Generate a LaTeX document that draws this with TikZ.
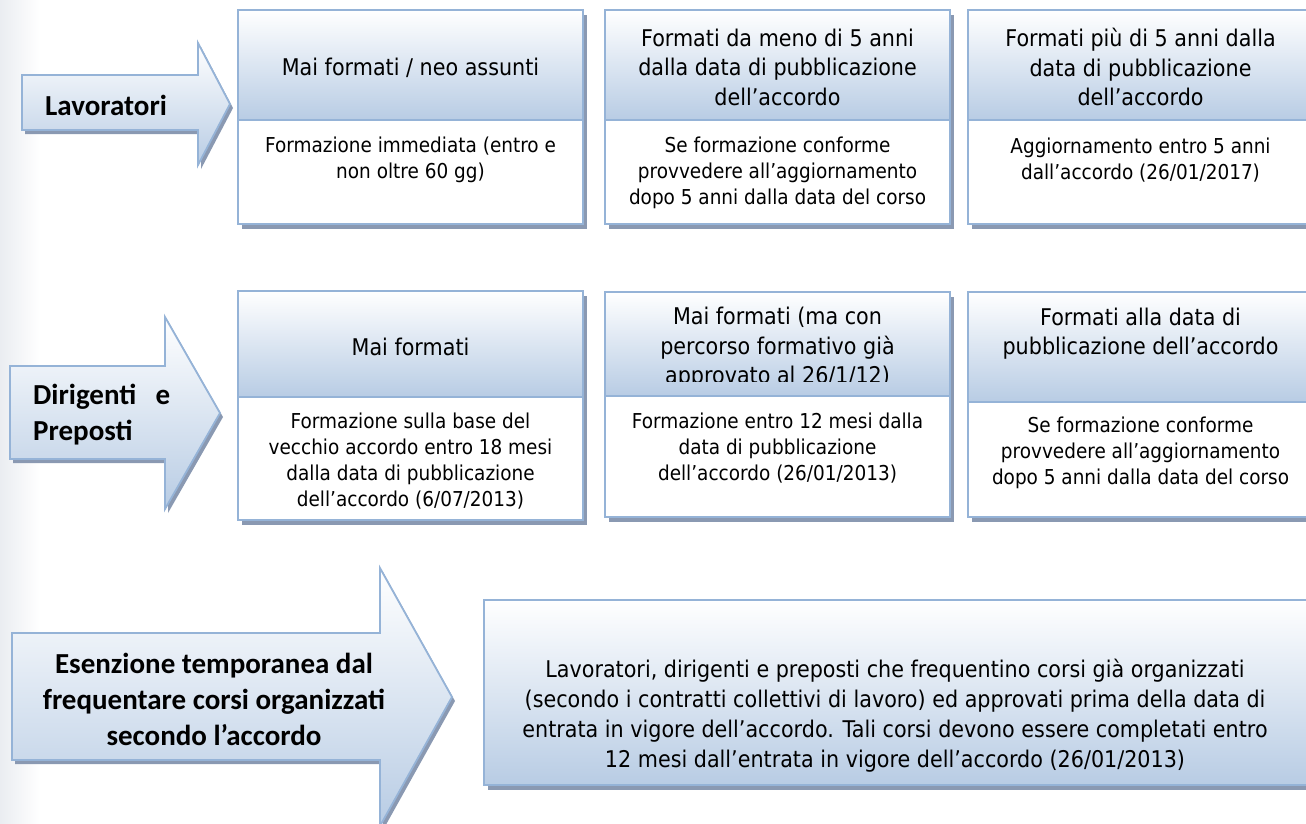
\documentclass[tikz,border=0pt]{standalone}
\usepackage{fontspec}
\setmainfont{DejaVu Sans}[FakeStretch=0.9]
\newfontfamily\carlitofont{Carlito}
\usetikzlibrary{positioning}
\definecolor{boxline}{RGB}{149,179,215}
\definecolor{boxfill}{RGB}{184,204,228}
\definecolor{boxdrop}{RGB}{138,153,178}
\definecolor{sidebar}{RGB}{234,237,241}
\tikzset{%
  hdr/.style={draw=boxline, line width=2pt, top color=white, bottom color=boxfill},
  bdy/.style={draw=boxline, line width=2pt, fill=white},
  drop/.style={fill=boxdrop},
  arrbody/.style={draw=boxline, line width=1.8pt, top color=white, bottom color=boxfill},
  htxt/.style={font=\fontsize{23}{29.5}\selectfont, align=center, inner sep=0pt},
  btxt/.style={font=\fontsize{20.5}{26}\selectfont, align=center, inner sep=0pt},
  ntxt/.style={font=\fontsize{23}{30}\selectfont, align=center, inner sep=0pt},
  lbl/.style={font=\carlitofont\bfseries\fontsize{29}{36}\selectfont, inner sep=0pt}
}
% big block arrow: x0, shaft top, shaft bottom, head x, head top, head bottom, tip x
\newcommand{\procarrow}[7]{%
  \fill[drop,shift={(3,4)}] (#1,#2) -- (#4,#2) -- (#4,#5) -- (#7,{(#5+#6)/2}) -- (#4,#6) -- (#4,#3) -- (#1,#3) -- cycle;
  \filldraw[arrbody] (#1,#2) -- (#4,#2) -- (#4,#5) -- (#7,{(#5+#6)/2}) -- (#4,#6) -- (#4,#3) -- (#1,#3) -- cycle;
}
% box with header: x0, x1, top, split, bottom
\newcommand{\twobox}[5]{%
  \fill[drop] (#1+4,#3+5) rectangle (#2+4,#5+5);
  \filldraw[hdr] (#1,#3) rectangle (#2,#4);
  \filldraw[bdy] (#1,#4) rectangle (#2,#5);
}

\begin{document}
\begin{tikzpicture}[x=1pt,y=-1pt]
  \useasboundingbox (0,0) rectangle (1306,823);
  \fill[white] (0,0) rectangle (1306,823);
  \shade[left color=sidebar, right color=white] (0,0) rectangle (40,823);

  % first row
  \procarrow{22}{75}{130}{198}{43}{165}{230}
  \node[lbl, anchor=west] (lav) at (45,105) {Lavoratori};
  \twobox{238}{583}{10}{120}{224}
  \twobox{605}{950}{10}{120}{224}
  \twobox{968}{1313}{10}{120}{224}
  \node[htxt] (h11) at (410.5,68) {Mai formati / neo assunti};
  \node[btxt] (b11) at (410.5,160) {Formazione immediata (entro e\\non oltre 60 gg)};
  \node[htxt] (h12) at (777.5,67) {Formati da meno di 5 anni\\dalla data di pubblicazione\\dell’accordo};
  \node[btxt] (b12) at (777.5,172.5) {Se formazione conforme\\provvedere all’aggiornamento\\dopo 5 anni dalla data del corso};
  \node[htxt] (h13) at (1140.5,67) {Formati più di 5 anni dalla\\data di pubblicazione\\dell’accordo};
  \node[btxt] (b13) at (1140.5,160) {Aggiornamento entro 5 anni\\dall’accordo (26/01/2017)};

  % second row
  \procarrow{10}{366}{459}{165}{317}{509}{220}
  \node[lbl, anchor=west, align=left] (dir) at (33,414.5) {\makebox[137pt][s]{Dirigenti e}\\Preposti};
  \twobox{238}{583}{291}{397}{520}
  \twobox{605}{950}{292}{396}{517}
  \twobox{968}{1313}{292}{402}{517}
  \node[htxt] (h21) at (410.5,347) {Mai formati};
  \node[btxt] (b21) at (410.5,461) {Formazione sulla base del\\vecchio accordo entro 18 mesi\\dalla data di pubblicazione\\dell’accordo (6/07/2013)};
  \begin{scope}
    \clip (605,292) rectangle (950,381);
    \node[htxt] (h22) at (777.5,348) {Mai formati (ma con\\percorso formativo già\\approvato al 26/1/12)};
  \end{scope}
  \node[btxt] (b22) at (777.5,448.5) {Formazione entro 12 mesi dalla\\data di pubblicazione\\dell’accordo (26/01/2013)};
  \node[htxt] (h23) at (1140.5,333.5) {Formati alla data di\\pubblicazione dell’accordo};
  \node[btxt] (b23) at (1140.5,452.5) {Se formazione conforme\\provvedere all’aggiornamento\\dopo 5 anni dalla data del corso};

  % third row
  \procarrow{12}{633}{760}{380}{568}{826}{452}
  \node[lbl, align=center] (ese) at (214,699) {Esenzione temporanea dal\\frequentare corsi organizzati\\secondo l’accordo};
  \fill[drop] (488,605) rectangle (1317,790);
  \filldraw[hdr] (484,600) rectangle (1313,785);
  \node[ntxt] (note) at (895,716) {Lavoratori, dirigenti e preposti che frequentino corsi già organizzati\\(secondo i contratti collettivi di lavoro) ed approvati prima della data di\\entrata in vigore dell’accordo. Tali corsi devono essere completati entro\\12 mesi dall’entrata in vigore dell’accordo (26/01/2013)};
\end{tikzpicture}
\end{document}
